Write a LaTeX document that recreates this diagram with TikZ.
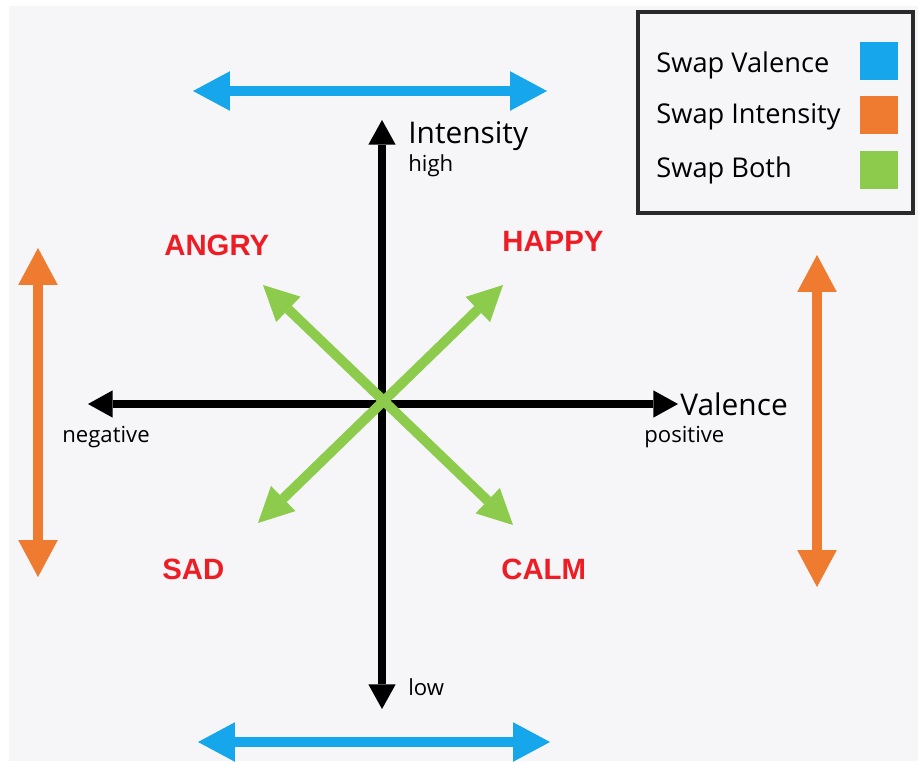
\documentclass[tikz,border=0pt]{standalone}
\usepackage{fontspec}
\setmainfont{Open Sans}
\newfontfamily\emofont{Liberation Sans}
\usetikzlibrary{arrows.meta}

\definecolor{pagegrey}{HTML}{F6F6F8}
\definecolor{swapblue}{HTML}{16A6EC}
\definecolor{swaporange}{HTML}{EE7B30}
\definecolor{swapgreen}{HTML}{8CCB4C}
\definecolor{emored}{HTML}{EE1C24}
\definecolor{framegrey}{HTML}{2A2A2A}

\tikzset{
  axisline/.style={line width=4.2pt, {Triangle[length=14pt,width=15.5pt,line width=0pt]}-{Triangle[length=14pt,width=15.5pt,line width=0pt]}},
  swapline/.style={line width=6.2pt, {Triangle[length=21pt,width=22.5pt,line width=0pt]}-{Triangle[length=21pt,width=22.5pt,line width=0pt]}},
  bothline/.style={line width=5.6pt, swapgreen, {Triangle[length=20pt,width=20pt,line width=0pt]}-{Triangle[length=20pt,width=20pt,line width=0pt]}},
  biglabel/.style={inner sep=0pt, anchor=base west, font=\fontsize{17pt}{19pt}\selectfont},
  smalllabel/.style={inner sep=0pt, anchor=base west, font=\fontsize{12.6pt}{15pt}\selectfont},
  keylabel/.style={inner sep=0pt, anchor=base west, font=\fontsize{15.5pt}{18pt}\selectfont},
  emotion/.style={inner sep=0pt, anchor=base west, text=emored, font=\emofont\bfseries\fontsize{16.7pt}{19pt}\selectfont},
  swatch/.style={inner sep=0pt, minimum size=21.5pt}
}

\begin{document}
\begin{tikzpicture}[x=0.02cm, y=-0.02cm]
  % page
  \useasboundingbox (0,0) rectangle (918,761);
  \fill[white] (0,0) rectangle (918,761);
  \fill[pagegrey] (9,6) rectangle (918,761);

  % axes
  \coordinate (high) at (382,120);
  \coordinate (low) at (382,709);
  \coordinate (neg) at (88,404);
  \coordinate (pos) at (678,404);
  \draw[axisline] (low) -- (high);
  \draw[axisline] (neg) -- (pos);

  \node[biglabel] (intensity) at (408,143) {Intensity};
  \node[smalllabel] (highlabel) at (408,171) {high};
  \node[smalllabel] (lowlabel) at (408,695) {low};
  \node[biglabel] (valence) at (680,415) {Valence};
  \node[smalllabel] (poslabel) at (644,442) {positive};
  \node[smalllabel] (neglabel) at (62,442) {negative};

  % swap both
  \coordinate (bothul) at (263,285);
  \coordinate (bothur) at (503,285);
  \coordinate (bothll) at (258,523);
  \coordinate (bothlr) at (513,525);
  \draw[bothline] (bothll) -- (bothur);
  \draw[bothline] (bothul) -- (bothlr);

  % swap valence
  \coordinate (topl) at (193,91);
  \coordinate (topr) at (547,91);
  \coordinate (botl) at (198,742);
  \coordinate (botr) at (550,742);
  \draw[swapline, swapblue] (topl) -- (topr);
  \draw[swapline, swapblue] (botl) -- (botr);

  % swap intensity
  \coordinate (leftt) at (38,248);
  \coordinate (leftb) at (38,577);
  \coordinate (rightt) at (817,255);
  \coordinate (rightb) at (817,587);
  \draw[swapline, swaporange] (leftt) -- (leftb);
  \draw[swapline, swaporange] (rightt) -- (rightb);

  % emotions
  \node[emotion] (angry) at (164,255) {ANGRY};
  \node[emotion] (happy) at (502,251) {HAPPY};
  \node[emotion] (sad) at (162,579) {SAD};
  \node[emotion] (calm) at (501,579) {CALM};

  % legend
  \draw[framegrey, line width=1.9pt] (638,12) rectangle (913,213);
  \node[keylabel] (keyvalence) at (656,72) {Swap Valence};
  \node[keylabel] (keyintensity) at (656,123) {Swap Intensity};
  \node[keylabel] (keyboth) at (656,177) {Swap Both};
  \node[swatch, fill=swapblue] (boxvalence) at (879,61) {};
  \node[swatch, fill=swaporange] (boxintensity) at (879,115) {};
  \node[swatch, fill=swapgreen] (boxboth) at (879,170) {};
\end{tikzpicture}
\end{document}
